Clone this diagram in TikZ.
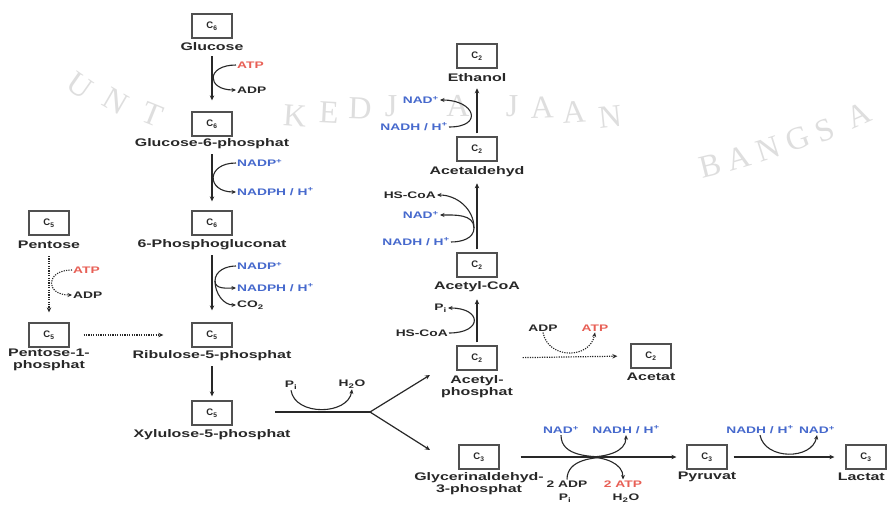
\documentclass[tikz,border=0pt]{standalone}
\usepackage{fontspec}
\setmainfont{Liberation Sans}
\newfontfamily\wfont{Liberation Sans}[FakeStretch=1.45]
\newfontfamily\wmfont{Liberation Serif}
\usetikzlibrary{arrows.meta}

\definecolor{ink}{RGB}{40,40,40}
\definecolor{rxred}{RGB}{232,95,85}
\definecolor{rxblue}{RGB}{70,105,205}
\definecolor{boxline}{RGB}{80,80,80}
\definecolor{wmark}{RGB}{222,222,222}

\tikzset{
  cbox/.style={draw=boxline, line width=1.3pt, minimum width=40pt, minimum height=24pt,
               inner sep=0pt, font=\bfseries\fontsize{9.5}{9.5}\selectfont, text=ink},
  lbl/.style={font=\wfont\bfseries\fontsize{11}{12}\selectfont, text=ink,
              inner sep=1pt, align=center},
  reag/.style={font=\wfont\bfseries\fontsize{9.5}{9.5}\selectfont, text=ink, inner sep=1pt},
  rred/.style={reag, text=rxred},
  rblue/.style={reag, text=rxblue},
  flow/.style={draw=ink, line width=1.2pt, -{Stealth[length=5pt,width=4.5pt]}},
  rside/.style={draw=ink, line width=1.1pt},
  sidearr/.style={rside, -{Stealth[length=4.5pt,width=4pt]}},
  dotline/.style={dash pattern=on 1.2pt off 1.2pt},
  wm/.style={font=\wmfont\fontsize{32}{32}\selectfont, text=wmark, inner sep=0pt}
}

\newcommand{\Cn}[1]{C\textsubscript{#1}}

\begin{document}
\begin{tikzpicture}[x=1pt,y=-1pt]
\useasboundingbox (0,0) rectangle (887,506);
\fill[white] (0,0) rectangle (887,506);

% university watermark lettering
\node[wm, rotate=-35] (w1) at (80,86) {U};
\node[wm, rotate=-30] (w2) at (116,101) {N};
\node[wm, rotate=-22] (w3) at (152,114) {T};
\node[wm, rotate=-4]  (w6) at (295,116) {K};
\node[wm, rotate=-3]  (w7) at (329,113) {E};
\node[wm, rotate=-2]  (w8) at (360,108) {D};
\node[wm]             (w9) at (391,106) {J};
\node[wm]             (w10) at (458,106) {A};
\node[wm]             (w11) at (512,106) {J};
\node[wm, rotate=2]   (w12) at (542,108) {A};
\node[wm, rotate=4]   (w13) at (574,112) {A};
\node[wm, rotate=6]   (w14) at (610,117) {N};
\node[wm, rotate=14]  (w15) at (710,166) {B};
\node[wm, rotate=16]  (w16) at (739,158) {A};
\node[wm, rotate=18]  (w17) at (768,149) {N};
\node[wm, rotate=20]  (w18) at (798,139) {G};
\node[wm, rotate=22]  (w19) at (825,130) {S};
\node[wm, rotate=24]  (w20) at (859,115) {A};

% ---------- oxidative pentose phosphate branch ----------
\node[cbox] (bglc) at (212,26) {\Cn{6}};
\node[lbl]  (nglc) at (212,47) {Glucose};
\node[cbox] (bg6p) at (212,124) {\Cn{6}};
\node[lbl]  (ng6p) at (212,144) {Glucose-6-phosphat};
\node[cbox] (bpg)  at (212,223) {\Cn{6}};
\node[lbl]  (npg)  at (212,245) {6-Phosphogluconat};
\node[cbox] (bru)  at (212,335) {\Cn{5}};
\node[lbl]  (nru)  at (212,356) {Ribulose-5-phosphat};
\node[cbox] (bxy)  at (212,413) {\Cn{5}};
\node[lbl]  (nxy)  at (212,435) {Xylulose-5-phosphat};

\draw[flow, shorten <=4pt, shorten >=11pt] (nglc.south) -- (bg6p.north);
\draw[flow, shorten <=4pt, shorten >=9pt]  (ng6p.south) -- (bpg.north);
\draw[flow, shorten <=4pt, shorten >=12pt] (npg.south) -- (bru.north);
\draw[flow, shorten <=4pt, shorten >=4pt]  (nru.south) -- (bxy.north);

\node[rred,  anchor=west] (atpA)  at (236,65)  {ATP};
\node[reag,  anchor=west] (adpA)  at (236,90)  {ADP};
\draw[sidearr] (atpA.west) .. controls +(-30,0) and +(-30,0) .. (adpA.west);

\node[rblue, anchor=west] (nadpA)  at (236,163) {NADP\textsuperscript{+}};
\node[rblue, anchor=west] (nadphA) at (236,192) {NADPH / H\textsuperscript{+}};
\draw[sidearr] (nadpA.west) .. controls +(-30,0) and +(-30,0) .. (nadphA.west);

\node[rblue, anchor=west] (nadpB)  at (236,266) {NADP\textsuperscript{+}};
\node[rblue, anchor=west] (nadphB) at (236,288) {NADPH / H\textsuperscript{+}};
\node[reag,  anchor=west] (co2B)   at (236,305) {CO\textsubscript{2}};
\coordinate (mB) at (215,281);
\draw[rside] (nadpB.west) to[out=180,in=90] (mB);
\draw[sidearr] (mB) to[out=-90,in=180] (nadphB.west);
\draw[sidearr] (mB) to[out=-90,in=180] (co2B.west);

% ---------- pentose entry ----------
\node[cbox] (bpen) at (49,223) {\Cn{5}};
\node[lbl]  (npen) at (49,245) {Pentose};
\node[cbox] (bp1p) at (49,335) {\Cn{5}};
\node[lbl]  (np1p) at (49,360) {Pentose-1-\\phosphat};

\draw[flow, dotline, shorten <=6pt, shorten >=10pt] (npen.south) -- (bp1p.north);
\node[rred, anchor=west] (atpP) at (72,270) {ATP};
\node[reag, anchor=west] (adpP) at (72,295) {ADP};
\draw[sidearr, dotline] (atpP.west) .. controls +(-27,0) and +(-27,0) .. (adpP.west);

\draw[flow, dotline, shorten <=14pt, shorten >=28pt] (bp1p.east) -- (bru.west);

% ---------- phosphoketolase split ----------
\coordinate (xs) at (275,412);
\coordinate (jn) at (370,412);
\coordinate (ta) at (430,375);
\coordinate (tb) at (430,450);
\draw[rside] (xs) -- (jn);
\draw[flow] (jn) -- (ta);
\draw[flow] (jn) -- (tb);
\node[reag] (piX)  at (291,385) {P\textsubscript{i}};
\node[reag] (h2oX) at (352,384) {H\textsubscript{2}O};
\draw[sidearr] (piX.south) .. controls +(4,26) and +(-4,26) .. (h2oX.south);

% ---------- C2 branch ----------
\node[cbox] (bet)   at (477,56)  {\Cn{2}};
\node[lbl]  (net)   at (477,78)  {Ethanol};
\node[cbox] (bald)  at (477,149) {\Cn{2}};
\node[lbl]  (nald)  at (477,172) {Acetaldehyd};
\node[cbox] (bacoa) at (477,265) {\Cn{2}};
\node[lbl]  (nacoa) at (477,287) {Acetyl-CoA};
\node[cbox] (bacp)  at (477,358) {\Cn{2}};
\node[lbl]  (nacp)  at (477,387) {Acetyl-\\phosphat};

\draw[flow, shorten <=3pt, shorten >=5pt] (bald.north) -- (net.south);
\draw[flow, shorten <=3pt, shorten >=5pt] (bacoa.north) -- (nald.south);
\draw[flow, shorten <=3pt, shorten >=6pt] (bacp.north) -- (nacoa.south);

\node[rblue, anchor=east] (nadE)  at (440,100) {NAD\textsuperscript{+}};
\node[rblue, anchor=east] (nadhE) at (449,127) {NADH / H\textsuperscript{+}};
\draw[sidearr] (nadhE.east) .. controls +(35,0) and +(35,0) .. (nadE.east);

\node[reag,  anchor=east] (hscA)  at (437,195) {HS-CoA};
\node[rblue, anchor=east] (nadF)  at (440,215) {NAD\textsuperscript{+}};
\node[rblue, anchor=east] (nadhF) at (451,242) {NADH / H\textsuperscript{+}};
\coordinate (mF) at (474,228);
\draw[rside] (nadhF.east) to[out=0,in=-90] (mF);
\draw[sidearr] (mF) to[out=90,in=0] (nadF.east);
\draw[sidearr] (mF) to[out=90,in=0] (hscA.east);

\node[reag, anchor=east] (piG)  at (448,308) {P\textsubscript{i}};
\node[reag, anchor=east] (hscG) at (449,333) {HS-CoA};
\draw[sidearr] (hscG.east) .. controls +(34,0) and +(34,0) .. (piG.east);

\node[cbox] (bac) at (651,356) {\Cn{2}};
\node[lbl]  (nac) at (651,377) {Acetat};
\draw[flow, dotline, shorten <=25pt, shorten >=13pt] (bacp.east) -- (bac.west);
\node[reag] (adpK) at (543,328) {ADP};
\node[rred] (atpK) at (595,328) {ATP};
\draw[sidearr, dotline] (adpK.south) .. controls +(5,27) and +(-5,27) .. (atpK.south);

% ---------- C3 branch ----------
\node[cbox] (bgap) at (479,457) {\Cn{3}};
\node[lbl]  (ngap) at (479,484) {Glycerinaldehyd-\\3-phosphat};
\node[cbox] (bpyr) at (707,457) {\Cn{3}};
\node[lbl]  (npyr) at (707,477) {Pyruvat};
\node[cbox] (blac) at (866,457) {\Cn{3}};
\node[lbl, anchor=east] (nlac) at (886,477) {Lactat};

\draw[flow, shorten <=21pt, shorten >=10pt] (bgap.east) -- (bpyr.west);
\draw[flow, shorten <=6pt, shorten >=11pt] (bpyr.east) -- (blac.west);

\node[rblue] (nadC)  at (561,430) {NAD\textsuperscript{+}};
\node[rblue] (nadhC) at (626,430) {NADH / H\textsuperscript{+}};
\node[reag]  (adpC)  at (567,484) {2 ADP};
\node[rred]  (atpC)  at (623,484) {2 ATP};
\node[reag]  (piC)   at (565,498) {P\textsubscript{i}};
\node[reag]  (h2oC)  at (626,498) {H\textsubscript{2}O};
\coordinate (m1) at (588,457);
\coordinate (m2) at (612,457);
\draw[rside] (nadC.south) to[out=-90,in=180] (m2);
\draw[rside] (adpC.north) to[out=90,in=180] (m2);
\draw[sidearr] (m1) to[out=0,in=-90] (nadhC.south);
\draw[sidearr] (m1) to[out=0,in=90] (atpC.north);

\node[rblue] (nadhD) at (760,430) {NADH / H\textsuperscript{+}};
\node[rblue] (nadD)  at (817,430) {NAD\textsuperscript{+}};
\draw[sidearr] (nadhD.south) .. controls +(5,25) and +(-5,25) .. (nadD.south);

\end{tikzpicture}
\end{document}
